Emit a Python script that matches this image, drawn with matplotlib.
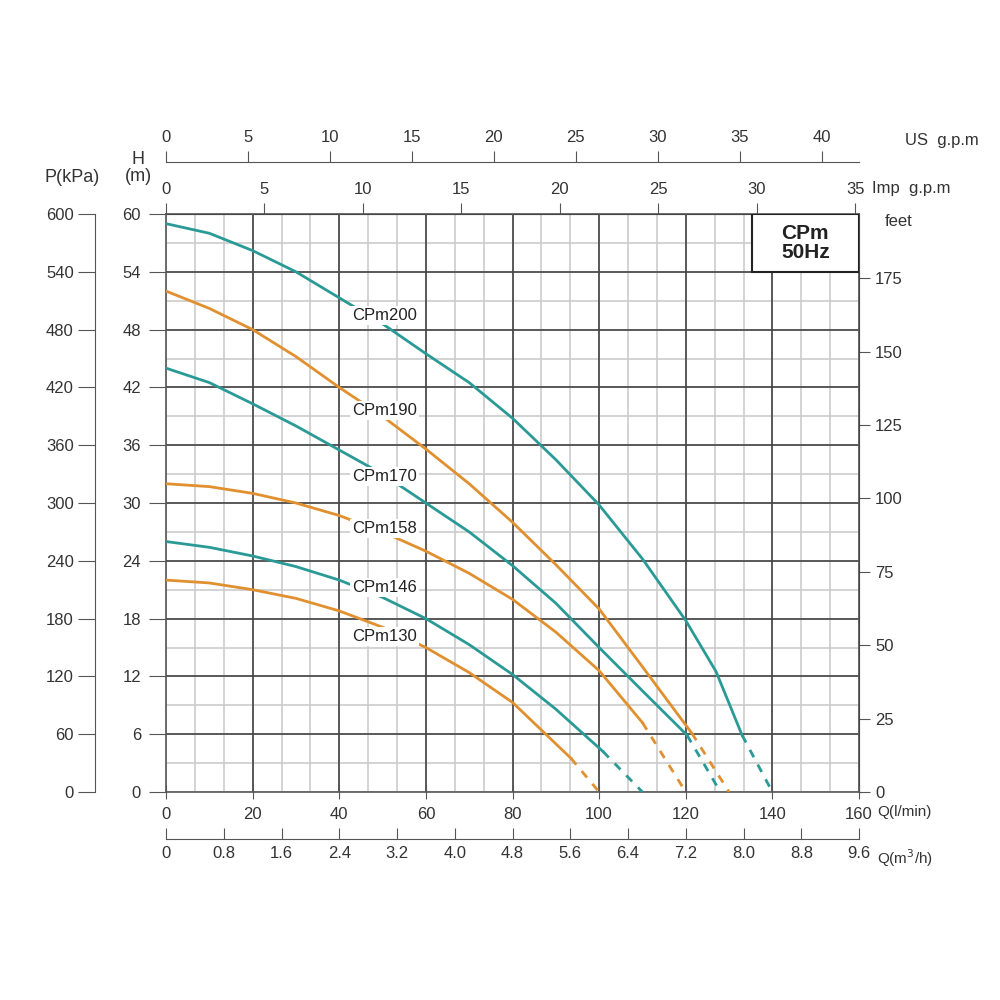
import matplotlib
matplotlib.use("Agg")
import numpy as np
from matplotlib import pyplot as plt
from matplotlib.patches import Rectangle

plt.rcParams['font.family'] = ['Liberation Sans', 'DejaVu Sans']
TXT = '#333333'
TEAL = '#2a9a96'
ORANGE = '#e0902e'

# curve data: flow Q (l/min), head H (m); solid part then dashed tail to H=0
names = ['CPm200', 'CPm190', 'CPm170', 'CPm158', 'CPm146', 'CPm130']
colors = [TEAL, ORANGE, TEAL, ORANGE, TEAL, ORANGE]
q_200 = [0, 10, 20, 30, 40, 50, 60, 70, 80, 90, 100, 110, 120, 127, 133]
h_200 = [59, 58, 56.2, 54, 51.3, 48.6, 45.5, 42.5, 38.8, 34.5, 29.8, 24.2, 17.8, 12.5, 5.9]
q_190 = [0, 10, 20, 30, 40, 50, 60, 70, 80, 90, 100, 110, 121.4]
h_190 = [52, 50.2, 48, 45.2, 42, 39, 35.6, 32, 28, 23.6, 19, 13, 6.1]
q_170 = [0, 10, 20, 30, 40, 50, 60, 70, 80, 90, 100, 110, 120.3]
h_170 = [44, 42.5, 40.3, 38, 35.5, 33, 30, 27, 23.5, 19.6, 15, 10.5, 5.9]
q_158 = [0, 10, 20, 30, 40, 50, 60, 70, 80, 90, 100, 110]
h_158 = [32, 31.7, 31, 30, 28.7, 27, 25, 22.7, 20, 16.6, 12.6, 7.2]
q_146 = [0, 10, 20, 30, 40, 50, 60, 70, 80, 90, 100.9]
h_146 = [26, 25.4, 24.5, 23.4, 22, 20.2, 18, 15.3, 12.2, 8.6, 4.2]
q_130 = [0, 10, 20, 30, 40, 50, 60, 70, 80, 93.5]
h_130 = [22, 21.7, 21, 20.1, 18.8, 17.1, 15, 12.4, 9.3, 3.5]
q_solid = [q_200, q_190, q_170, q_158, q_146, q_130]
h_solid = [h_200, h_190, h_170, h_158, h_146, h_130]
q_zero = [140, 130, 128, 120, 110, 100]
label_h = [49.5, 39.6, 32.7, 27.4, 21.2, 16.1]

fig = plt.figure(figsize=(10, 10), dpi=100)
ax = fig.add_axes([0.166, 0.208, 0.693, 0.578])
ax.set_xlim(0, 160)
ax.set_ylim(0, 60)

# grid
for x in np.arange(0, 161, 20 / 3):
    ax.axvline(x, color='#cccccc', lw=1.2, zorder=0)
for y in np.arange(0, 61, 3):
    ax.axhline(y, color='#cccccc', lw=1.2, zorder=0)
for x in range(20, 160, 20):
    ax.axvline(x, color='#444444', lw=1.2, zorder=1)
for y in range(6, 60, 6):
    ax.axhline(y, color='#444444', lw=1.2, zorder=1)

for name, c, qs, hs, qz, lh in zip(names, colors, q_solid, h_solid, q_zero, label_h):
    ax.plot(qs, hs, color=c, lw=2, zorder=3, solid_joinstyle='round')
    ax.plot([qs[-1], qz], [hs[-1], 0], color=c, lw=2, ls=(0, (3, 3)), zorder=3)
    ax.text(50.5, lh, name, fontsize=12, color='#222222', ha='center', va='center', zorder=4,
            bbox=dict(facecolor='white', edgecolor='none', pad=1.5))

ax.add_patch(Rectangle((135.3, 54), 24.7, 6, facecolor='white', edgecolor='#222222', lw=1.5, zorder=5))
ax.text(147.6, 57, 'CPm\n50Hz', fontsize=15, fontweight='bold', ha='center', va='center',
        color='#222222', zorder=6, linespacing=1.0)

for s in ax.spines.values():
    s.set_color('#555555')
    s.set_linewidth(1.2)

ax.set_xticks(range(0, 161, 20))
ax.set_yticks(range(0, 61, 6))
ax.tick_params(axis='x', direction='inout', length=10, labelsize=12, labelcolor=TXT, color='#555555', pad=6)
ax.tick_params(axis='y', direction='out', length=12, labelsize=12, labelcolor=TXT, color='#555555', pad=6)

# pressure axis
ap = ax.secondary_yaxis(-0.102, functions=(lambda h: h * 10, lambda p: p / 10))
ap.set_yticks(range(0, 601, 60))
ap.tick_params(direction='out', length=12, labelsize=12, labelcolor=TXT, color='#555555')
ap.spines['left'].set_color('#555555')

# feet axis
af = ax.secondary_yaxis('right', functions=(lambda h: h * 3.2808, lambda f: f / 3.2808))
af.set_yticks(range(0, 176, 25))
af.tick_params(direction='out', length=8, labelsize=12, labelcolor=TXT, color='#555555')

# Imperial gpm
ai = ax.secondary_xaxis('top', functions=(lambda q: q / 4.546, lambda g: g * 4.546))
ai.set_xticks(range(0, 36, 5))
ai.tick_params(direction='out', length=8, labelsize=12, labelcolor=TXT, color='#555555', pad=4)

# US gpm
au = ax.secondary_xaxis(1.09, functions=(lambda q: q / 3.785, lambda g: g * 3.785))
au.set_xticks(range(0, 41, 5))
au.tick_params(direction='out', length=8, labelsize=12, labelcolor=TXT, color='#555555', pad=4)
au.spines['top'].set_color('#555555')

# m3/h
am = ax.secondary_xaxis(-0.081, functions=(lambda q: q * 0.06, lambda m: m / 0.06))
am.set_xticks(np.round(np.arange(0, 9.7, 0.8), 1))
am.set_xticklabels(['0', '0.8', '1.6', '2.4', '3.2', '4.0', '4.8', '5.6', '6.4', '7.2', '8.0', '8.8', '9.6'])
am.tick_params(direction='in', length=8, labelsize=12, labelcolor=TXT, color='#555555', pad=5)
am.spines['bottom'].set_color('#555555')

fig.text(0.072, 0.822, 'P(kPa)', fontsize=13, color=TXT, ha='center', va='center')
fig.text(0.138, 0.832, 'H\n(m)', fontsize=13, color=TXT, ha='center', va='center', linespacing=1.0)
fig.text(0.905, 0.859, 'US  g.p.m', fontsize=12, color=TXT, ha='left', va='center')
fig.text(0.872, 0.812, 'Imp  g.p.m', fontsize=12, color=TXT, ha='left', va='center')
fig.text(0.885, 0.779, 'feet', fontsize=12, color=TXT, ha='left', va='center')
fig.text(0.877, 0.188, 'Q(l/min)', fontsize=11, color=TXT, ha='left', va='center')
fig.text(0.877, 0.142, 'Q(m$^3$/h)', fontsize=11, color=TXT, ha='left', va='center')

fig.savefig('out.png', dpi=100, facecolor='white')
